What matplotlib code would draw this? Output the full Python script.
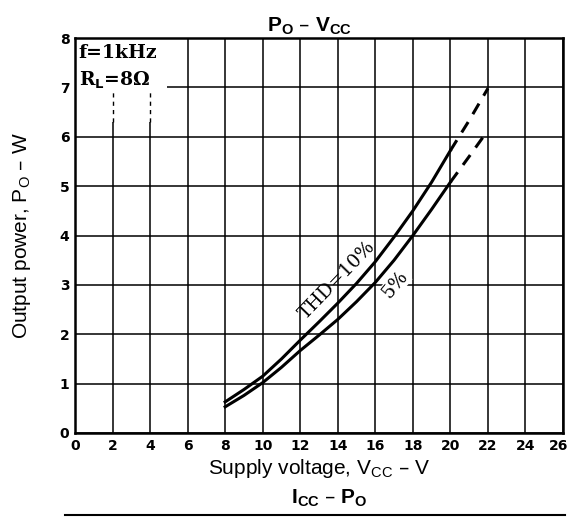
import matplotlib
matplotlib.use("Agg")
import matplotlib.pyplot as plt
from matplotlib.lines import Line2D
from matplotlib.patches import Rectangle
from matplotlib.transforms import ScaledTranslation

# supply voltage (V) and output power (W)
VCC_SOLID = [8, 9, 10, 11, 12, 13, 14, 15, 16, 17, 18, 19, 20]
PO_THD10 = [0.63, 0.88, 1.15, 1.5, 1.88, 2.25, 2.63, 3.03, 3.47, 3.97, 4.5, 5.08, 5.72]
PO_THD5 = [0.53, 0.76, 1.02, 1.33, 1.67, 1.98, 2.3, 2.66, 3.05, 3.5, 4.0, 4.53, 5.08]
VCC_DASH = [20, 21, 22]
PO_THD10_DASH = [5.72, 6.33, 6.98]
PO_THD5_DASH = [5.08, 5.6, 6.13]

XTICKS = list(range(0, 27, 2))
YTICKS = list(range(0, 9))

SANS = ["Liberation Sans", "DejaVu Sans"]
SERIF = ["DejaVu Serif"]

fig = plt.figure(figsize=(5.71, 5.17), dpi=100)
ax = fig.add_axes([75 / 571, 1 - 433 / 517, (563 - 75) / 571, (433 - 38) / 517])

ax.set_xlim(0, 26)
ax.set_ylim(0, 8)
ax.set_xticks(XTICKS)
ax.set_yticks(YTICKS)
ax.set_xticklabels([str(v) for v in XTICKS], fontweight="bold", fontsize=10, family="DejaVu Sans")
ax.set_yticklabels([str(v) for v in YTICKS], fontweight="bold", fontsize=10, family="DejaVu Sans")
ax.tick_params(length=0, pad=4)
# last x label sits on the figure edge, nudge it in a little
last = ax.get_xticklabels()[-1]
last.set_transform(last.get_transform() + ScaledTranslation(-4 / 100, 0, fig.dpi_scale_trans))
ax.grid(True, color="black", linewidth=1.1)
ax.set_axisbelow(True)
for s in ax.spines.values():
    s.set_linewidth(1.8)

# white patch behind the condition text, with the broken gridlines under it
ax.add_patch(Rectangle((0, 6.3), 4.9, 1.7, facecolor="white", edgecolor="none", zorder=1.5))
for xv in (2, 4):
    ax.plot([xv, xv], [6.3, 6.9], color="black", lw=1.0, ls=(0, (3, 3)), zorder=1.6)
ax.text(0.2, 7.7, "f=1kHz", family=SERIF, fontweight="bold", fontsize=13.5, va="center", zorder=3)
ax.text(0.2, 7.15, r"R$_\mathbf{L}$=8Ω", family=SERIF, fontweight="bold", fontsize=13.5, va="center", zorder=3)

ax.plot(VCC_SOLID, PO_THD10, color="black", lw=2.2, zorder=3)
ax.plot(VCC_SOLID, PO_THD5, color="black", lw=2.2, zorder=3)
ax.plot(VCC_DASH, PO_THD10_DASH, color="black", lw=2.2, ls=(0, (4, 3)), zorder=3)
ax.plot(VCC_DASH, PO_THD5_DASH, color="black", lw=2.2, ls=(0, (4, 3)), zorder=3)

ax.text(14.0, 3.1, "THD=10%", family=SERIF, fontsize=13.5, rotation=46,
        ha="center", va="center", zorder=4)
ax.text(17.05, 3.0, "5%", family=SERIF, fontsize=13.5, rotation=50,
        ha="center", va="center", zorder=4,
        bbox=dict(facecolor="white", edgecolor="none", pad=0.5))

ax.set_title(r"P$_\mathregular{O}$ – V$_\mathregular{CC}$", family=SANS, fontweight="bold",
             fontsize=15, pad=5, x=0.48)
ax.set_xlabel(r"Supply voltage, V$_\mathregular{CC}$ – V", family=SANS, fontsize=15, labelpad=3)
ax.set_ylabel(r"Output power, P$_\mathregular{O}$ – W", family=SANS, fontsize=15, labelpad=19)

# start of the next chart below
fig.text(329 / 571, 1 - 498 / 517, r"I$_\mathregular{CC}$ – P$_\mathregular{O}$", family=SANS,
         fontweight="bold", fontsize=15, ha="center", va="center")
fig.add_artist(Line2D([65 / 571, 565 / 571], [1 - 515 / 517, 1 - 515 / 517], color="black", lw=1.5))

fig.savefig("out.png", dpi=100)
